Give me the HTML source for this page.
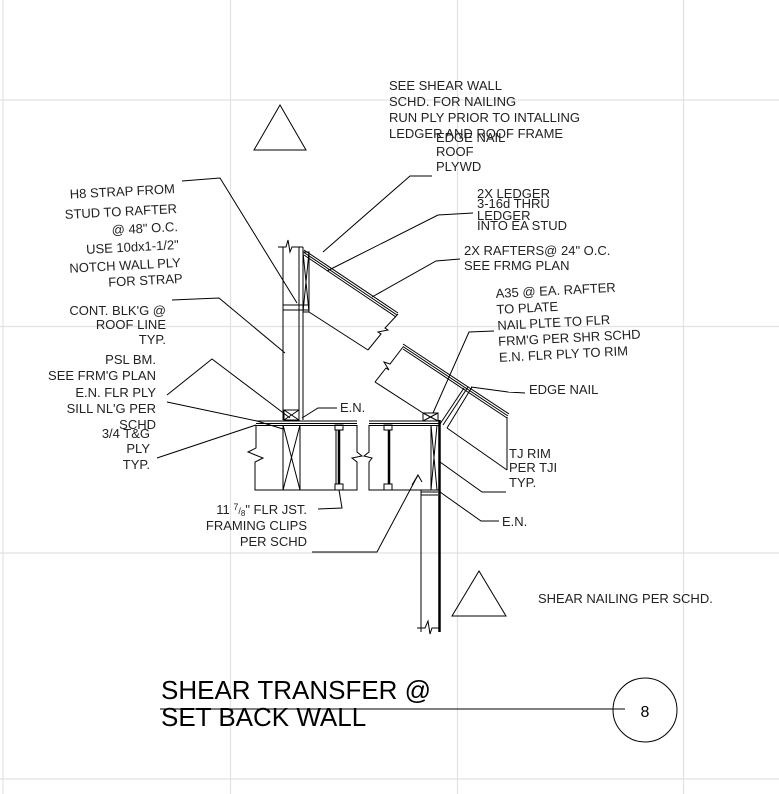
<!DOCTYPE html>
<html><head><meta charset="utf-8"><style>
html,body{margin:0;padding:0;background:#fff;}
svg{display:block;}
text{font-family:"Liberation Sans",sans-serif;fill:#222;font-size:13px;}
</style></head><body>
<svg width="779" height="794" viewBox="0 0 779 794" xmlns="http://www.w3.org/2000/svg">
<g stroke="#e2e2e2" stroke-width="1.2">
<line x1="3" y1="0" x2="3" y2="794"/><line x1="230.5" y1="0" x2="230.5" y2="794"/><line x1="457.5" y1="0" x2="457.5" y2="794"/><line x1="683.5" y1="0" x2="683.5" y2="794"/>
<line x1="0" y1="100" x2="779" y2="100"/><line x1="0" y1="326.5" x2="779" y2="326.5"/><line x1="0" y1="553" x2="779" y2="553"/><line x1="0" y1="779" x2="779" y2="779"/>
</g>
<g fill="none" stroke="#000" stroke-width="1">
<polygon points="280,105 254,150 306,150"/>
<polygon points="479,571 452,616 506,616"/>
<line x1="283" y1="247" x2="283" y2="420"/><line x1="299" y1="247" x2="299" y2="420"/><line x1="303" y1="247" x2="303" y2="420"/>
<polyline points="278,247 286,247 288,240 290,252 292,247 303,247"/>
<line x1="283" y1="305" x2="309" y2="305"/><line x1="283" y1="310" x2="309" y2="310"/>
<rect x="303" y="252" width="6" height="60"/><line x1="303" y1="252" x2="309" y2="312"/><line x1="309" y1="252" x2="303" y2="312"/>
<rect x="284" y="410" width="15" height="10"/><line x1="284" y1="410" x2="299" y2="420"/><line x1="299" y1="410" x2="284" y2="420"/>
<line x1="304" y1="250" x2="398" y2="313"/><line x1="304" y1="252.5" x2="397" y2="315"/><line x1="304" y1="255" x2="396" y2="317"/>
<line x1="309" y1="312" x2="368" y2="350"/>
<polyline points="368,350 381,334 378,332 388,330 385,328 398,314"/>
<line x1="403" y1="344" x2="509" y2="414"/><line x1="403" y1="346.5" x2="508" y2="416"/><line x1="403" y1="349" x2="507" y2="418"/>
<polyline points="403,347 390,364 384,362 389,370 386,368 375,382"/>
<line x1="375" y1="382" x2="423" y2="413"/>
<line x1="507" y1="417" x2="507" y2="470"/>
<line x1="472" y1="387" x2="447" y2="428"/><line x1="468" y1="387" x2="443" y2="425"/><line x1="464" y1="388" x2="440" y2="424"/>
<line x1="256" y1="421" x2="357" y2="421"/><line x1="256" y1="423.5" x2="357" y2="423.5"/><line x1="256" y1="425.5" x2="357" y2="425.5"/>
<polyline points="256,425 256,448 248,452 263,458 255,462 255,490 357,490 357,462 352,458 362,456 357,452 357,425"/>
<line x1="283" y1="425" x2="283" y2="490"/><line x1="300" y1="425" x2="300" y2="490"/><line x1="283" y1="425" x2="300" y2="490"/><line x1="300" y1="425" x2="283" y2="490"/>
<rect x="335" y="425" width="8" height="5"/><rect x="335" y="484" width="8" height="6"/>
<line x1="336" y1="430" x2="336" y2="484"/><line x1="339" y1="430" x2="339" y2="484" stroke-width="2.5"/>
<line x1="369" y1="421" x2="440" y2="421"/><line x1="369" y1="423.5" x2="440" y2="423.5"/><line x1="369" y1="425.5" x2="440" y2="425.5"/>
<polyline points="369,425 369,452 364,456 372,458 369,462 369,490 439,490"/>
<rect x="384" y="425" width="8" height="5"/><rect x="384" y="484" width="8" height="6"/>
<line x1="389" y1="430" x2="389" y2="484" stroke-width="2.5"/>
<rect x="423" y="413" width="15" height="8"/><line x1="423" y1="413" x2="438" y2="421"/><line x1="438" y1="413" x2="423" y2="421"/>
<line x1="431" y1="425" x2="431" y2="490"/><line x1="431" y1="425" x2="437" y2="490"/><line x1="437" y1="425" x2="431" y2="490"/>
<line x1="439.5" y1="420" x2="439.5" y2="632" stroke-width="2.5"/>
<line x1="421" y1="490" x2="421" y2="632"/>
<line x1="421" y1="492" x2="438" y2="492"/><line x1="421" y1="495" x2="438" y2="495"/>
<polyline points="417,628 425,628 428,621 430,634 432,628 439,628"/>
<polyline points="432,176 410,176 323,252"/>
<polyline points="473,213 438,215 327,271"/>
<polyline points="460,259 436,261 372,297"/>
<polyline points="494,331 469,332 433,413"/>
<polyline points="525,393 508,392 471,387"/>
<line x1="447" y1="428" x2="507" y2="470"/>
<polyline points="506,492 482,492 440,462"/>
<polyline points="499,521 481,521 440,492"/>
<polyline points="312,552 377,552 418,475"/>
<polyline points="412,485 418,475 422,482"/>
<polyline points="318,509 342,508 339,490"/>
<polyline points="182,181 220,178 297,303"/>
<polyline points="172,300 219,298 285,353"/>
<polyline points="167,395 212,359 290,418"/>
<polyline points="167,402 257,421 283,429"/>
<polyline points="157,458 256,425"/>
<polyline points="337,408 318,408 302,418"/>
<line x1="160" y1="709" x2="625" y2="709"/>
<circle cx="645" cy="710" r="32"/>
</g>
<text x="389" y="90">SEE SHEAR WALL</text>
<text x="389" y="106">SCHD. FOR NAILING</text>
<text x="389" y="122">RUN PLY PRIOR TO INTALLING</text>
<text x="389" y="138">LEDGER AND ROOF FRAME</text>
<text x="436" y="142">EDGE NAIL</text>
<text x="436" y="156">ROOF</text>
<text x="436" y="171">PLYWD</text>
<text x="477" y="198">2X LEDGER</text>
<text x="477" y="208">3-16d THRU</text>
<text x="477" y="220">LEDGER</text>
<text x="477" y="230">INTO EA STUD</text>
<text x="464" y="255">2X RAFTERS@ 24" O.C.</text>
<text x="464" y="270">SEE FRMG PLAN</text>
<g transform="rotate(-3 496 300)">
<text x="496" y="298">A35 @ EA. RAFTER</text>
<text x="496" y="314">TO PLATE</text>
<text x="496" y="330">NAIL PLTE TO FLR</text>
<text x="496" y="346">FRM'G PER SHR SCHD</text>
<text x="496" y="362">E.N. FLR PLY TO RIM</text>
</g>
<text x="529" y="394">EDGE NAIL</text>
<text x="509" y="458">TJ RIM</text>
<text x="509" y="472">PER TJI</text>
<text x="509" y="487">TYP.</text>
<text x="502" y="526">E.N.</text>
<text x="340" y="412">E.N.</text>
<g text-anchor="end" transform="rotate(-3 178 230)">
<text x="177" y="193">H8 STRAP FROM</text>
<text x="178" y="213">STUD TO RAFTER</text>
<text x="178" y="231">@ 48" O.C.</text>
<text x="178" y="249">USE 10dx1-1/2"</text>
<text x="179" y="267">NOTCH WALL PLY</text>
<text x="180" y="283">FOR STRAP</text>
</g>
<g text-anchor="end">
<text x="166" y="315">CONT. BLK'G @</text>
<text x="166" y="329">ROOF LINE</text>
<text x="166" y="344">TYP.</text>
<text x="156" y="364">PSL BM.</text>
<text x="156" y="380">SEE FRM'G PLAN</text>
<text x="156" y="397">E.N. FLR PLY</text>
<text x="156" y="413">SILL NL'G PER</text>
<text x="156" y="429">SCHD</text>
<text x="150" y="438">3/4 T&amp;G</text>
<text x="150" y="453">PLY</text>
<text x="150" y="469">TYP.</text>
<text x="307" y="514">11 <tspan font-size="9" dy="-4">7</tspan><tspan font-size="9" dy="4">/</tspan><tspan font-size="8" dy="2">8</tspan><tspan dy="-2">" FLR JST.</tspan></text>
<text x="307" y="530">FRAMING CLIPS</text>
<text x="307" y="546">PER SCHD</text>
</g>
<text x="538" y="603" font-size="12">SHEAR NAILING PER SCHD.</text>
<text x="161" y="699" style="font-size:26px;fill:#000">SHEAR TRANSFER @</text>
<text x="161" y="726" style="font-size:26px;fill:#000">SET BACK WALL</text>
<text x="645" y="717" text-anchor="middle" style="font-size:16px;fill:#000">8</text>
</svg>
</body></html>
